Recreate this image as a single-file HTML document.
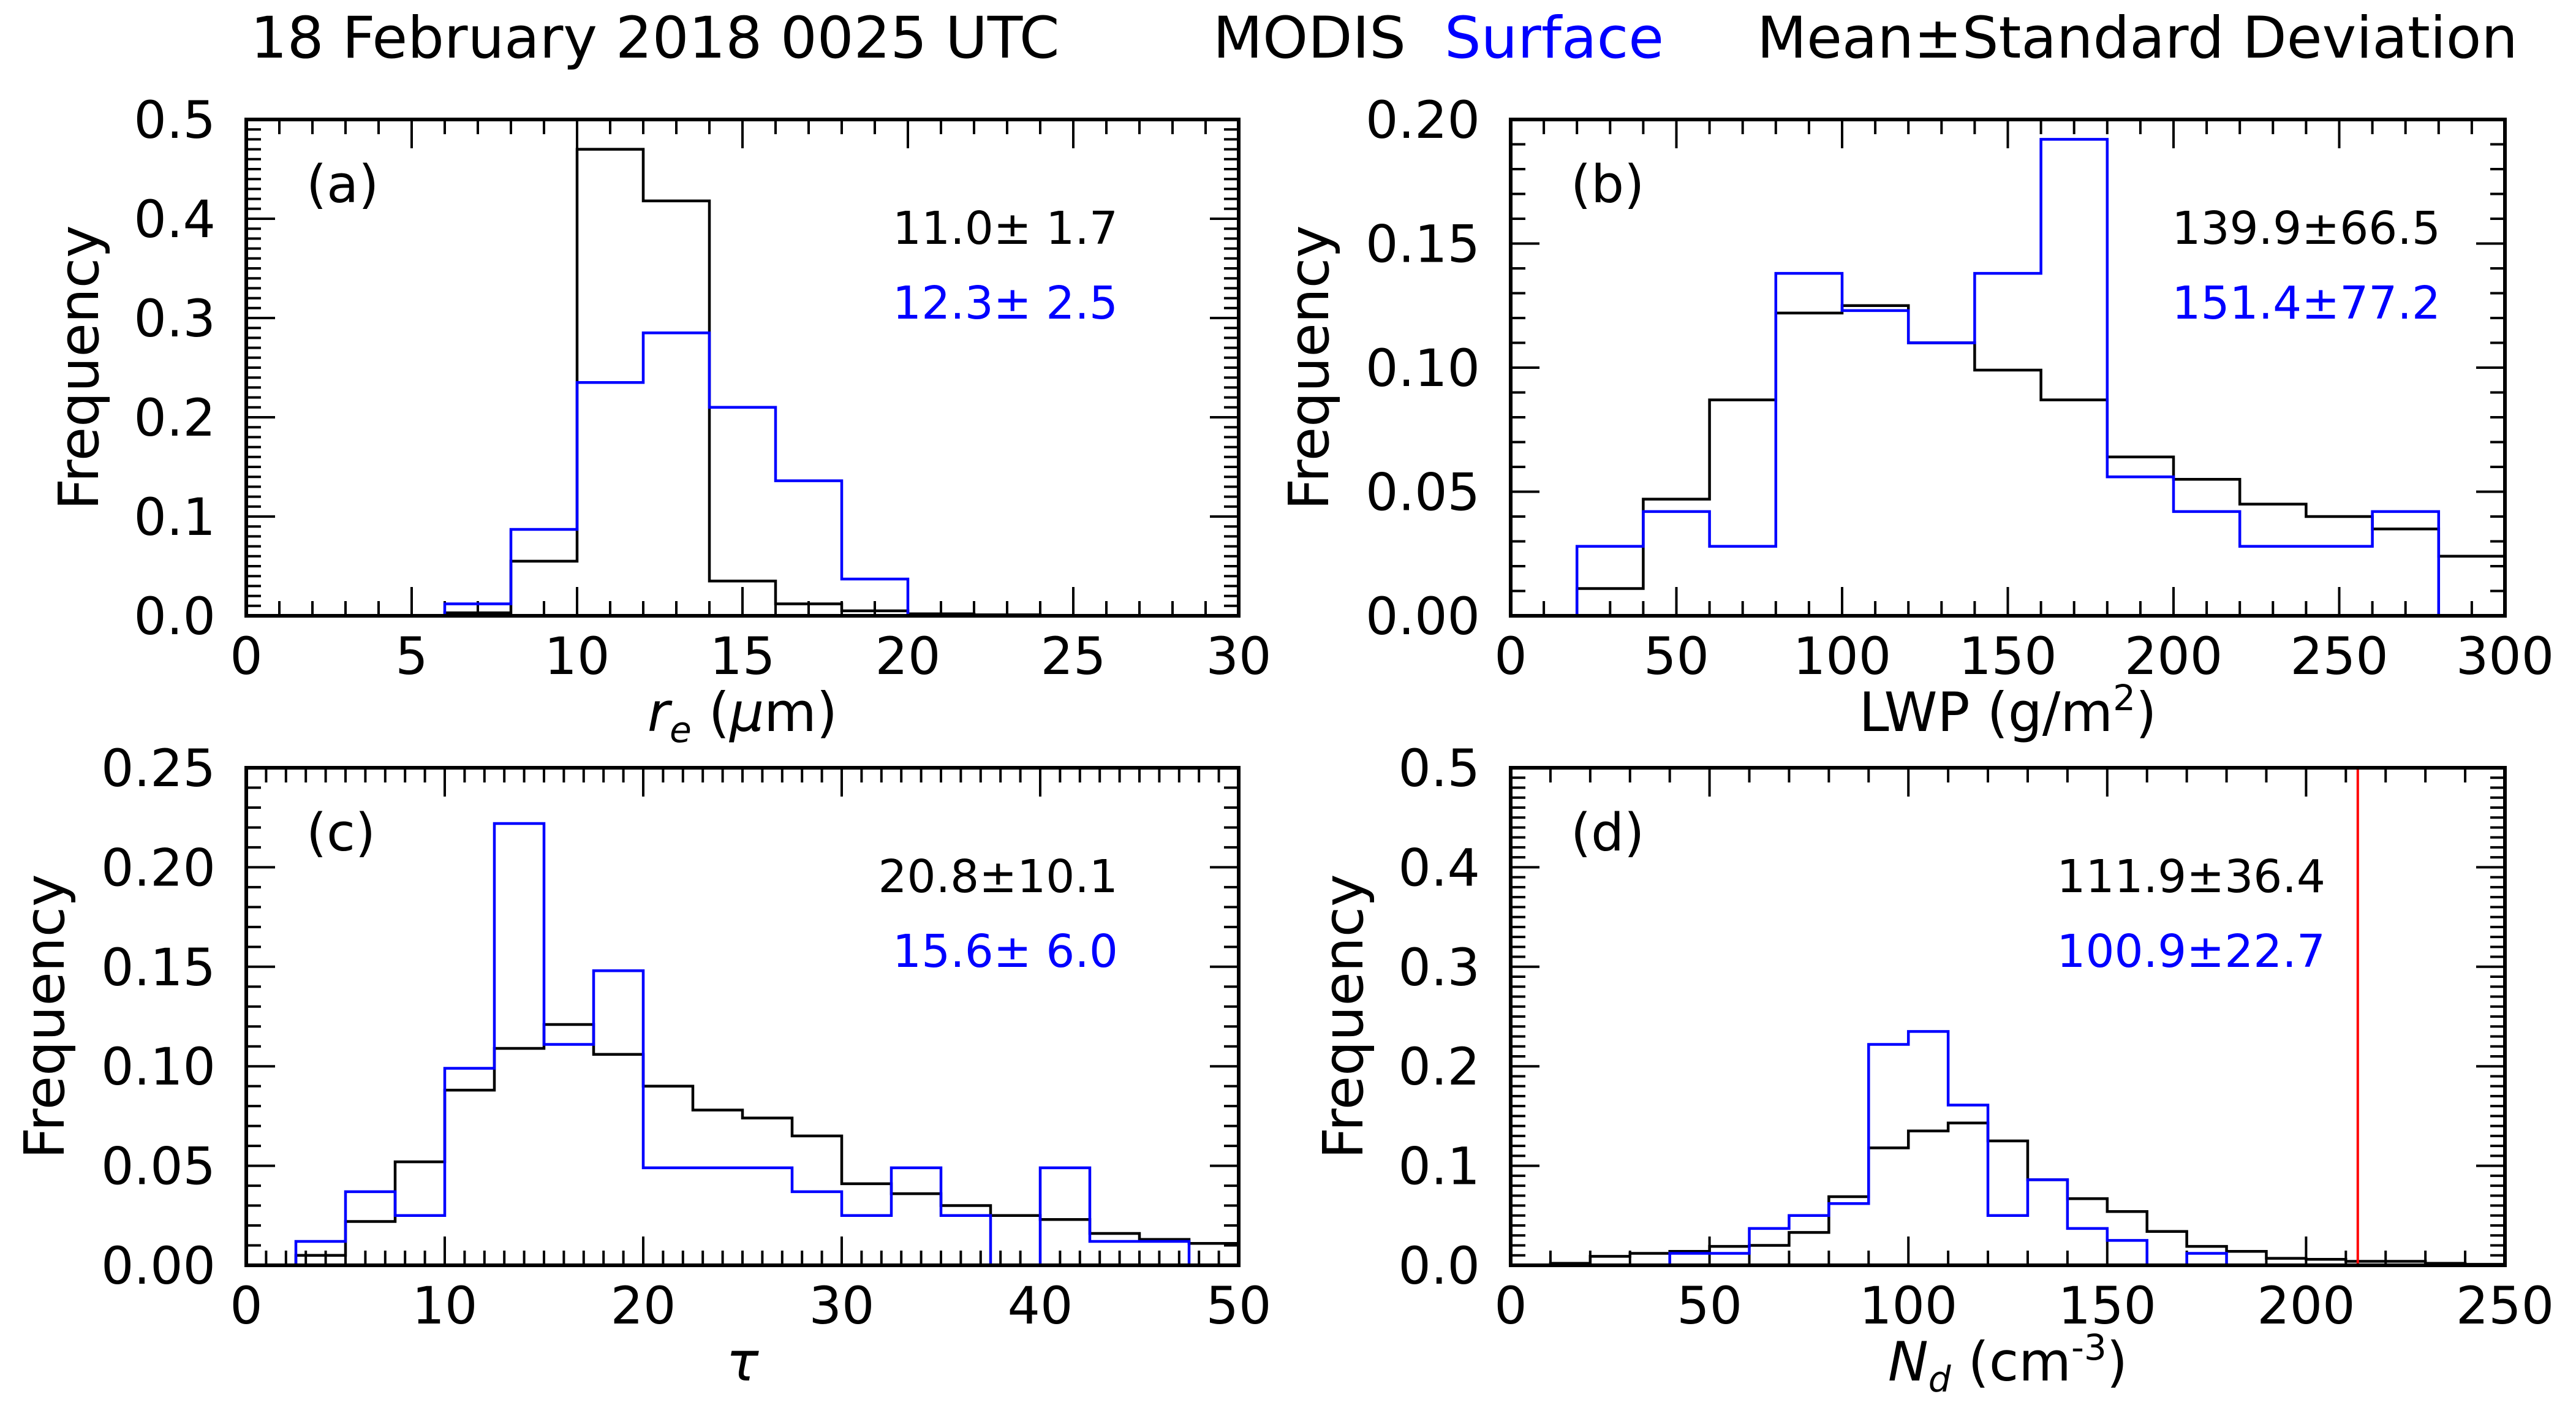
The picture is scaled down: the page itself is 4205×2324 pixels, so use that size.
<!DOCTYPE html>
<html><head><meta charset="utf-8"><style>
html,body{margin:0;padding:0;background:#fff;}
svg{display:block;font-family:"DejaVu Sans","Liberation Sans",sans-serif;}
</style></head><body>
<svg id="fig" width="4205" height="2324" viewBox="0 0 4205 2324" xmlns="http://www.w3.org/2000/svg">
<text x="409" y="94" font-size="94">18 February 2018 0025 UTC</text>
<text x="1980" y="94" font-size="94">MODIS</text>
<text x="2358" y="94" font-size="94" fill="#0000ff">Surface</text>
<text x="2868" y="94" font-size="94">Mean±Standard Deviation</text>
</svg>
<script>
// Panel (a) r_e
const aEdges=[6,8,10,12,14,16,18,20,22,24];
const aBlack=[0.003,0.055,0.47,0.418,0.035,0.012,0.005,0.002,0.001];
const aBlue=[0.012,0.087,0.235,0.285,0.21,0.136,0.037,0,0];
// Panel (b) LWP
const bEdges=[20,40,60,80,100,120,140,160,180,200,220,240,260,280,300];
const bBlack=[0.011,0.047,0.087,0.122,0.125,0.110,0.099,0.087,0.064,0.055,0.045,0.040,0.035,0.024];
const bBlue=[0.028,0.042,0.028,0.138,0.123,0.110,0.138,0.192,0.056,0.042,0.028,0.028,0.042,0];
// Panel (c) tau
const cEdges=[2.5,5,7.5,10,12.5,15,17.5,20,22.5,25,27.5,30,32.5,35,37.5,40,42.5,45,47.5,50];
const cBlack=[0.005,0.022,0.052,0.088,0.109,0.121,0.106,0.090,0.078,0.074,0.065,0.041,0.036,0.030,0.025,0.023,0.016,0.013,0.011];
const cBlue=[0.012,0.037,0.025,0.099,0.222,0.111,0.148,0.049,0.049,0.049,0.037,0.025,0.049,0.025,0,0.049,0.012,0.012,0];
// Panel (d) Nd
const dEdges=[0,10,20,30,40,50,60,70,80,90,100,110,120,130,140,150,160,170,180,190,200,210,220,230,240,250];
const dBlack=[0.0,0.002,0.009,0.012,0.014,0.019,0.02,0.033,0.069,0.118,0.135,0.143,0.125,0.086,0.067,0.054,0.034,0.019,0.014,0.007,0.006,0.004,0.004,0.002,0.001];
const dBlue=[0,0,0,0,0.012,0.012,0.037,0.05,0.062,0.222,0.235,0.161,0.05,0.086,0.037,0.025,0,0.012,0,0,0,0,0,0,0];
const dRedLine=[213];
const xTicksA=[0,5,10,15,20,25,30];
const yTicksA=["0.0","0.1","0.2","0.3","0.4","0.5"];
const xTicksB=[0,50,100,150,200,250,300];
const yTicksB=["0.00","0.05","0.10","0.15","0.20"];
const xTicksC=[0,10,20,30,40,50];
const yTicksC=["0.00","0.05","0.10","0.15","0.20","0.25"];
const xTicksD=[0,50,100,150,200,250];
const yTicksD=["0.0","0.1","0.2","0.3","0.4","0.5"];
const statsA=["11.0± 1.7","12.3± 2.5"], statsB=["139.9±66.5","151.4±77.2"], statsC=["20.8±10.1","15.6± 6.0"], statsD=["111.9±36.4","100.9±22.7"];

const NS="http://www.w3.org/2000/svg";
const svg=document.getElementById('fig');
function mk(tag,attrs,parent,txt){const e=document.createElementNS(NS,tag);for(const k in attrs)e.setAttribute(k,attrs[k]);if(txt!==undefined)e.textContent=txt;(parent||svg).appendChild(e);return e;}

function panel(p){
  const g=mk('g',{});
  
  
  const X=v=>p.L+(v-p.xmin)/(p.xmax-p.xmin)*(p.R-p.L);
  const Y=v=>p.B-(v-p.ymin)/(p.ymax-p.ymin)*(p.B-p.T);
  for(let v=p.xmin;v<=p.xmax+1e-9;v+=p.xminor){
    const maj=Math.abs(Math.round(v/p.xmajor)*p.xmajor-v)<1e-6;const len=maj?47:24;const x=X(v);
    const t1=mk('line',{x1:x,x2:x,y1:p.B,y2:p.B-len,stroke:'#000','stroke-width':4},g);
    
    const t2=mk('line',{x1:x,x2:x,y1:p.T,y2:p.T+len,stroke:'#000','stroke-width':4},g);
    
  }
  for(let v=p.ymin;v<=p.ymax+1e-9;v+=p.yminor){
    const maj=Math.abs(Math.round(v/p.ymajor)*p.ymajor-v)<1e-6;const len=maj?47:24;const y=Y(v);
    const t1=mk('line',{x1:p.L,x2:p.L+len,y1:y,y2:y,stroke:'#000','stroke-width':4},g);
    
    const t2=mk('line',{x1:p.R,x2:p.R-len,y1:y,y2:y,stroke:'#000','stroke-width':4},g);
    
  }
  p.xt.forEach(v=>{const t=mk('text',{x:X(v),y:p.B+95,'font-size':84,'text-anchor':'middle'},g,String(v));
    });
  p.yt.forEach(s=>{const t=mk('text',{x:p.L-50,y:Y(parseFloat(s))+30,'font-size':84,'text-anchor':'end'},g,s);
    });
  function hist(edges,vals,color,name){
    let d='';
    for(let i=0;i<vals.length;i++){
      const x0=X(edges[i]),x1=X(edges[i+1]),y=Y(vals[i]);
      d+=(i===0?'M'+x0+','+Y(0):'')+' L'+x0+','+y+' L'+x1+','+y;
    }
    d+=' L'+X(edges[vals.length])+','+Y(0);
    const path=mk('path',{d:d,fill:'none',stroke:color,'stroke-width':4.5},g);
    
  }
  hist(p.edges,p.black,'#000','modis-histogram');
  hist(p.edges,p.blue,'#0000ff','surface-histogram');
  if(p.red){p.red.forEach(v=>{const l=mk('line',{x1:X(v),x2:X(v),y1:p.T,y2:p.B,stroke:'#ff0000','stroke-width':4},g);
    });}
  const fr=mk('rect',{x:p.L,y:p.T,width:p.R-p.L,height:p.B-p.T,fill:'none',stroke:'#000','stroke-width':6},g);
  
  const lab=mk('text',{x:p.L+98,y:p.T+135,'font-size':85},g,'('+p.id+')');
  
  const s1=mk('text',{x:p.sx,y:p.T+203,'font-size':74,'text-anchor':'end'},g,p.stats[0]);
  
  const s2=mk('text',{x:p.sx,y:p.T+325,'font-size':74,'text-anchor':'end',fill:'#0000ff'},g,p.stats[1]);
  
  const yl=mk('text',{x:0,y:0,'font-size':90,'text-anchor':'middle',transform:'translate('+(p.L-p.yoff)+','+((p.T+p.B)/2)+') rotate(-90)'},g,'Frequency');
  
  const xl=mk('text',{x:(p.L+p.R)/2,y:p.B+188,'font-size':88,'text-anchor':'middle'},g);
  
  xl.innerHTML=p.xlabel;
}
panel({id:'a',yoff:242,L:402,R:2022,T:195,B:1005,xmin:0,xmax:30,ymin:0,ymax:0.5,xminor:1,xmajor:5,yminor:0.01,ymajor:0.1,xt:xTicksA,yt:yTicksA,edges:aEdges,black:aBlack,blue:aBlue,stats:statsA,sx:1825,
  xlabel:'<tspan font-style="italic">r</tspan><tspan font-style="italic" font-size="58" dy="18">e</tspan><tspan dy="-18"> (</tspan><tspan font-style="italic">μ</tspan><tspan>m)</tspan>'});
panel({id:'b',yoff:298,L:2466,R:4089,T:195,B:1005,xmin:0,xmax:300,ymin:0,ymax:0.2,xminor:10,xmajor:50,yminor:0.01,ymajor:0.05,xt:xTicksB,yt:yTicksB,edges:bEdges,black:bBlack,blue:bBlue,stats:statsB,sx:3984,
  xlabel:'LWP (g/m<tspan font-size="58" dy="-34">2</tspan><tspan dy="34">)</tspan>'});
panel({id:'c',yoff:298,L:402,R:2022,T:1253,B:2065,xmin:0,xmax:50,ymin:0,ymax:0.25,xminor:1,xmajor:10,yminor:0.01,ymajor:0.05,xt:xTicksC,yt:yTicksC,edges:cEdges,black:cBlack,blue:cBlue,stats:statsC,sx:1825,
  xlabel:'<tspan font-style="italic">τ</tspan>'});
panel({id:'d',yoff:242,L:2466,R:4089,T:1253,B:2065,xmin:0,xmax:250,ymin:0,ymax:0.5,xminor:10,xmajor:50,yminor:0.01,ymajor:0.1,xt:xTicksD,yt:yTicksD,edges:dEdges,black:dBlack,blue:dBlue,red:dRedLine,stats:statsD,sx:3796,
  xlabel:'<tspan font-style="italic">N</tspan><tspan font-style="italic" font-size="58" dy="18">d</tspan><tspan dy="-18"> (cm</tspan><tspan font-size="58" dy="-34">-3</tspan><tspan dy="34">)</tspan>'});
</script>
</body></html>
